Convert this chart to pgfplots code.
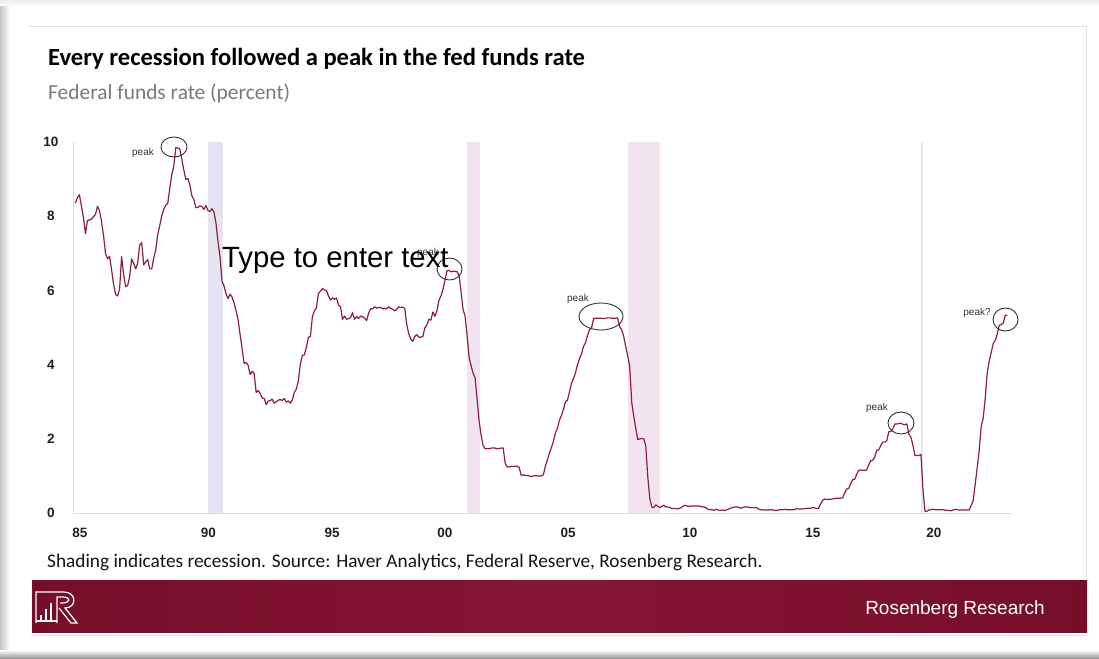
\documentclass[border=0pt]{standalone}
\usepackage{fontspec}
\setmainfont{Carlito}
\newfontfamily\arialf{Liberation Sans}
\usepackage{pgfplots}
\pgfplotsset{compat=1.18}
\usepackage{pgfplotstable}

\definecolor{ffr}{RGB}{136,34,54}
\definecolor{banner}{RGB}{118,14,42}
\definecolor{bannerlight}{RGB}{132,20,52}
\definecolor{recA}{RGB}{230,227,243}
\definecolor{recB}{RGB}{241,228,239}
\definecolor{frameline}{RGB}{226,226,226}

% Effective federal funds rate, monthly average (percent)
\pgfplotstableread[row sep=\\]{
yr mo r\\
1985 1 8.35\\ 1985 2 8.50\\ 1985 3 8.58\\ 1985 4 8.27\\ 1985 5 7.97\\ 1985 6 7.53\\ 1985 7 7.88\\ 1985 8 7.90\\ 1985 9 7.92\\ 1985 10 7.99\\ 1985 11 8.05\\ 1985 12 8.27\\
1986 1 8.14\\ 1986 2 7.86\\ 1986 3 7.48\\ 1986 4 6.99\\ 1986 5 6.85\\ 1986 6 6.92\\ 1986 7 6.56\\ 1986 8 6.17\\ 1986 9 5.89\\ 1986 10 5.85\\ 1986 11 6.04\\ 1986 12 6.91\\
1987 1 6.43\\ 1987 2 6.10\\ 1987 3 6.13\\ 1987 4 6.37\\ 1987 5 6.85\\ 1987 6 6.73\\ 1987 7 6.58\\ 1987 8 6.73\\ 1987 9 7.22\\ 1987 10 7.29\\ 1987 11 6.69\\ 1987 12 6.77\\
1988 1 6.83\\ 1988 2 6.58\\ 1988 3 6.58\\ 1988 4 6.87\\ 1988 5 7.09\\ 1988 6 7.51\\ 1988 7 7.75\\ 1988 8 8.01\\ 1988 9 8.19\\ 1988 10 8.30\\ 1988 11 8.35\\ 1988 12 8.76\\
1989 1 9.12\\ 1989 2 9.36\\ 1989 3 9.85\\ 1989 4 9.84\\ 1989 5 9.81\\ 1989 6 9.53\\ 1989 7 9.24\\ 1989 8 8.99\\ 1989 9 9.02\\ 1989 10 8.84\\ 1989 11 8.55\\ 1989 12 8.45\\
1990 1 8.23\\ 1990 2 8.24\\ 1990 3 8.28\\ 1990 4 8.26\\ 1990 5 8.18\\ 1990 6 8.29\\ 1990 7 8.15\\ 1990 8 8.13\\ 1990 9 8.20\\ 1990 10 8.11\\ 1990 11 7.81\\ 1990 12 7.31\\
1991 1 6.91\\ 1991 2 6.25\\ 1991 3 6.12\\ 1991 4 5.91\\ 1991 5 5.78\\ 1991 6 5.90\\ 1991 7 5.82\\ 1991 8 5.66\\ 1991 9 5.45\\ 1991 10 5.21\\ 1991 11 4.81\\ 1991 12 4.43\\
1992 1 4.03\\ 1992 2 4.06\\ 1992 3 3.98\\ 1992 4 3.73\\ 1992 5 3.82\\ 1992 6 3.76\\ 1992 7 3.25\\ 1992 8 3.30\\ 1992 9 3.22\\ 1992 10 3.10\\ 1992 11 3.09\\ 1992 12 2.92\\
1993 1 3.02\\ 1993 2 3.03\\ 1993 3 3.07\\ 1993 4 2.96\\ 1993 5 3.00\\ 1993 6 3.04\\ 1993 7 3.06\\ 1993 8 3.03\\ 1993 9 3.09\\ 1993 10 2.99\\ 1993 11 3.02\\ 1993 12 2.96\\
1994 1 3.05\\ 1994 2 3.25\\ 1994 3 3.34\\ 1994 4 3.56\\ 1994 5 4.01\\ 1994 6 4.25\\ 1994 7 4.26\\ 1994 8 4.47\\ 1994 9 4.73\\ 1994 10 4.76\\ 1994 11 5.29\\ 1994 12 5.45\\
1995 1 5.53\\ 1995 2 5.92\\ 1995 3 5.98\\ 1995 4 6.05\\ 1995 5 6.01\\ 1995 6 6.00\\ 1995 7 5.85\\ 1995 8 5.74\\ 1995 9 5.80\\ 1995 10 5.76\\ 1995 11 5.80\\ 1995 12 5.60\\
1996 1 5.56\\ 1996 2 5.22\\ 1996 3 5.31\\ 1996 4 5.22\\ 1996 5 5.24\\ 1996 6 5.27\\ 1996 7 5.40\\ 1996 8 5.22\\ 1996 9 5.30\\ 1996 10 5.24\\ 1996 11 5.31\\ 1996 12 5.29\\
1997 1 5.25\\ 1997 2 5.19\\ 1997 3 5.39\\ 1997 4 5.51\\ 1997 5 5.50\\ 1997 6 5.56\\ 1997 7 5.52\\ 1997 8 5.54\\ 1997 9 5.54\\ 1997 10 5.50\\ 1997 11 5.52\\ 1997 12 5.50\\
1998 1 5.56\\ 1998 2 5.51\\ 1998 3 5.49\\ 1998 4 5.45\\ 1998 5 5.49\\ 1998 6 5.56\\ 1998 7 5.54\\ 1998 8 5.55\\ 1998 9 5.51\\ 1998 10 5.07\\ 1998 11 4.83\\ 1998 12 4.68\\
1999 1 4.63\\ 1999 2 4.76\\ 1999 3 4.81\\ 1999 4 4.74\\ 1999 5 4.74\\ 1999 6 4.76\\ 1999 7 4.99\\ 1999 8 5.07\\ 1999 9 5.22\\ 1999 10 5.20\\ 1999 11 5.42\\ 1999 12 5.30\\
2000 1 5.45\\ 2000 2 5.73\\ 2000 3 5.85\\ 2000 4 6.02\\ 2000 5 6.27\\ 2000 6 6.53\\ 2000 7 6.54\\ 2000 8 6.50\\ 2000 9 6.52\\ 2000 10 6.51\\ 2000 11 6.51\\ 2000 12 6.40\\
2001 1 5.98\\ 2001 2 5.49\\ 2001 3 5.31\\ 2001 4 4.80\\ 2001 5 4.21\\ 2001 6 3.97\\ 2001 7 3.77\\ 2001 8 3.65\\ 2001 9 3.07\\ 2001 10 2.49\\ 2001 11 2.09\\ 2001 12 1.82\\
2002 1 1.73\\ 2002 2 1.74\\ 2002 3 1.73\\ 2002 4 1.75\\ 2002 5 1.75\\ 2002 6 1.75\\ 2002 7 1.73\\ 2002 8 1.74\\ 2002 9 1.75\\ 2002 10 1.75\\ 2002 11 1.34\\ 2002 12 1.24\\
2003 1 1.24\\ 2003 2 1.26\\ 2003 3 1.25\\ 2003 4 1.26\\ 2003 5 1.26\\ 2003 6 1.22\\ 2003 7 1.01\\ 2003 8 1.03\\ 2003 9 1.01\\ 2003 10 1.01\\ 2003 11 1.00\\ 2003 12 0.98\\
2004 1 1.00\\ 2004 2 1.01\\ 2004 3 1.00\\ 2004 4 1.00\\ 2004 5 1.00\\ 2004 6 1.03\\ 2004 7 1.26\\ 2004 8 1.43\\ 2004 9 1.61\\ 2004 10 1.76\\ 2004 11 1.93\\ 2004 12 2.16\\
2005 1 2.28\\ 2005 2 2.50\\ 2005 3 2.63\\ 2005 4 2.79\\ 2005 5 3.00\\ 2005 6 3.04\\ 2005 7 3.26\\ 2005 8 3.50\\ 2005 9 3.62\\ 2005 10 3.78\\ 2005 11 4.00\\ 2005 12 4.16\\
2006 1 4.29\\ 2006 2 4.49\\ 2006 3 4.59\\ 2006 4 4.79\\ 2006 5 4.94\\ 2006 6 4.99\\ 2006 7 5.24\\ 2006 8 5.25\\ 2006 9 5.25\\ 2006 10 5.25\\ 2006 11 5.25\\ 2006 12 5.24\\
2007 1 5.25\\ 2007 2 5.26\\ 2007 3 5.26\\ 2007 4 5.25\\ 2007 5 5.25\\ 2007 6 5.25\\ 2007 7 5.26\\ 2007 8 5.02\\ 2007 9 4.94\\ 2007 10 4.76\\ 2007 11 4.49\\ 2007 12 4.24\\
2008 1 3.94\\ 2008 2 2.98\\ 2008 3 2.61\\ 2008 4 2.28\\ 2008 5 1.98\\ 2008 6 2.00\\ 2008 7 2.01\\ 2008 8 2.00\\ 2008 9 1.81\\ 2008 10 0.97\\ 2008 11 0.39\\ 2008 12 0.16\\
2009 1 0.15\\ 2009 2 0.22\\ 2009 3 0.18\\ 2009 4 0.15\\ 2009 5 0.18\\ 2009 6 0.21\\ 2009 7 0.16\\ 2009 8 0.16\\ 2009 9 0.15\\ 2009 10 0.12\\ 2009 11 0.12\\ 2009 12 0.12\\
2010 1 0.11\\ 2010 2 0.13\\ 2010 3 0.16\\ 2010 4 0.20\\ 2010 5 0.20\\ 2010 6 0.18\\ 2010 7 0.18\\ 2010 8 0.19\\ 2010 9 0.19\\ 2010 10 0.19\\ 2010 11 0.19\\ 2010 12 0.18\\
2011 1 0.17\\ 2011 2 0.16\\ 2011 3 0.14\\ 2011 4 0.10\\ 2011 5 0.09\\ 2011 6 0.09\\ 2011 7 0.07\\ 2011 8 0.10\\ 2011 9 0.08\\ 2011 10 0.07\\ 2011 11 0.08\\ 2011 12 0.07\\
2012 1 0.08\\ 2012 2 0.10\\ 2012 3 0.13\\ 2012 4 0.14\\ 2012 5 0.16\\ 2012 6 0.16\\ 2012 7 0.16\\ 2012 8 0.13\\ 2012 9 0.14\\ 2012 10 0.16\\ 2012 11 0.16\\ 2012 12 0.16\\
2013 1 0.14\\ 2013 2 0.15\\ 2013 3 0.14\\ 2013 4 0.15\\ 2013 5 0.11\\ 2013 6 0.09\\ 2013 7 0.09\\ 2013 8 0.08\\ 2013 9 0.08\\ 2013 10 0.09\\ 2013 11 0.08\\ 2013 12 0.09\\
2014 1 0.07\\ 2014 2 0.07\\ 2014 3 0.08\\ 2014 4 0.09\\ 2014 5 0.09\\ 2014 6 0.10\\ 2014 7 0.09\\ 2014 8 0.09\\ 2014 9 0.09\\ 2014 10 0.09\\ 2014 11 0.09\\ 2014 12 0.12\\
2015 1 0.11\\ 2015 2 0.11\\ 2015 3 0.11\\ 2015 4 0.12\\ 2015 5 0.12\\ 2015 6 0.13\\ 2015 7 0.13\\ 2015 8 0.14\\ 2015 9 0.14\\ 2015 10 0.12\\ 2015 11 0.12\\ 2015 12 0.24\\
2016 1 0.34\\ 2016 2 0.38\\ 2016 3 0.36\\ 2016 4 0.37\\ 2016 5 0.37\\ 2016 6 0.38\\ 2016 7 0.39\\ 2016 8 0.40\\ 2016 9 0.40\\ 2016 10 0.40\\ 2016 11 0.41\\ 2016 12 0.54\\
2017 1 0.65\\ 2017 2 0.66\\ 2017 3 0.79\\ 2017 4 0.90\\ 2017 5 0.91\\ 2017 6 1.04\\ 2017 7 1.15\\ 2017 8 1.16\\ 2017 9 1.15\\ 2017 10 1.15\\ 2017 11 1.16\\ 2017 12 1.30\\
2018 1 1.41\\ 2018 2 1.42\\ 2018 3 1.51\\ 2018 4 1.69\\ 2018 5 1.70\\ 2018 6 1.82\\ 2018 7 1.91\\ 2018 8 1.91\\ 2018 9 1.95\\ 2018 10 2.19\\ 2018 11 2.20\\ 2018 12 2.27\\
2019 1 2.40\\ 2019 2 2.40\\ 2019 3 2.41\\ 2019 4 2.42\\ 2019 5 2.39\\ 2019 6 2.38\\ 2019 7 2.40\\ 2019 8 2.13\\ 2019 9 2.04\\ 2019 10 1.83\\ 2019 11 1.55\\ 2019 12 1.55\\
2020 1 1.55\\ 2020 2 1.58\\ 2020 3 0.65\\ 2020 4 0.05\\ 2020 5 0.05\\ 2020 6 0.08\\ 2020 7 0.09\\ 2020 8 0.10\\ 2020 9 0.09\\ 2020 10 0.09\\ 2020 11 0.09\\ 2020 12 0.09\\
2021 1 0.09\\ 2021 2 0.08\\ 2021 3 0.07\\ 2021 4 0.07\\ 2021 5 0.06\\ 2021 6 0.08\\ 2021 7 0.10\\ 2021 8 0.09\\ 2021 9 0.08\\ 2021 10 0.08\\ 2021 11 0.08\\ 2021 12 0.08\\
2022 1 0.08\\ 2022 2 0.08\\ 2022 3 0.20\\ 2022 4 0.33\\ 2022 5 0.77\\ 2022 6 1.21\\ 2022 7 1.68\\ 2022 8 2.33\\ 2022 9 2.56\\ 2022 10 3.08\\ 2022 11 3.78\\ 2022 12 4.10\\
2023 1 4.33\\ 2023 2 4.57\\ 2023 3 4.65\\ 2023 4 4.83\\ 2023 5 5.06\\ 2023 6 5.08\\ 2023 7 5.12\\ 2023 8 5.33\\ 2023 9 5.33\\
}\ffrdata

\begin{document}
\begin{tikzpicture}[x=1pt,y=-1pt]
% page and card
\fill[white] (0,0) rectangle (1099,658);
\shade[left color=black!22, right color=white] (0,0) rectangle (10,658);
\shade[top color=black!7, bottom color=white] (0,0) rectangle (1099,6);
\shade[top color=white, bottom color=black!40] (0,650) rectangle (1099,658);
\draw[frameline, line width=0.8pt] (28,26) -- (1086,26) -- (1086,578);

% titles
\node[anchor=base west, inner sep=0, font=\bfseries\fontsize{24.6}{28}\selectfont] at (48,66)
  {Every recession followed a peak in the fed funds rate};
\node[anchor=base west, inner sep=0, text=black!52, font=\fontsize{21.4}{24}\selectfont] at (48,100)
  {Federal funds rate (percent)};

\begin{axis}[
  at={(73pt,-513pt)}, anchor=south west,
  scale only axis, width=937.5pt, height=371pt,
  xmin=1984.9, xmax=2023.8, ymin=0, ymax=10,
  axis x line*=bottom, axis y line*=left,
  axis line style={draw=black!14, line width=0.6pt},
  major tick length=0pt,
  xtick={1985.19,1990.52,1995.65,2000.33,2005.44,2010.5,2015.6,2020.62},
  xticklabels={85,90,95,00,05,10,15,20},
  ytick={0,2,4,6,8,10}, yticklabels={0,2,4,6,8,10},
  xticklabel style={anchor=center, yshift=-20pt},
  yticklabel style={anchor=center, xshift=-22pt},
  tick label style={font=\arialf\bfseries\fontsize{13.5}{15}\selectfont, text=black!88},
  clip=false,
]
% recessions
\addplot[draw=none, fill=recA] coordinates {(1990.50,10) (1991.13,10)} \closedcycle;
\addplot[draw=none, fill=recB] coordinates {(2001.25,10) (2001.80,10)} \closedcycle;
\addplot[draw=none, fill=recB] coordinates {(2007.93,10) (2009.27,10)} \closedcycle;
\addplot[draw=none, fill=black!9] coordinates {(2020.10,10) (2020.17,10)} \closedcycle;
% fed funds rate
\addplot[ffr, line width=1.2pt, line join=round, mark=none]
  table[x expr=\thisrow{yr}+(\thisrow{mo}-1)/12, y=r] {\ffrdata};
\end{axis}

% peak annotations
\begin{scope}[black!80, line width=0.9pt]
\draw (174,147) ellipse [x radius=13, y radius=10];
\draw (449.5,269) ellipse [x radius=12.5, y radius=11];
\draw (601,316.5) ellipse [x radius=22, y radius=13.5];
\draw (901,423) ellipse [x radius=13, y radius=11];
\draw (1005.5,319.5) ellipse [x radius=12.5, y radius=11.5];
\end{scope}
\begin{scope}[every node/.style={font=\arialf\fontsize{10}{12}\selectfont, text=black!80, inner sep=0}]
\node at (143,153) {peak};
\node at (428,253) {peak};
\node at (578,299) {peak};
\node at (877,408) {peak};
\node at (977,313) {peak?};
\end{scope}
\node[anchor=base west, inner sep=0, font=\arialf\fontsize{29.3}{33}\selectfont] at (222,267) {Type to enter text};

% source line
\node[anchor=base west, inner sep=0, text=black!92, font=\fontsize{19.3}{22}\selectfont] at (47,567)
  {Shading indicates recession. Source: Haver Analytics, Federal Reserve, Rosenberg Research.};

% banner
\shade[left color=banner, right color=banner, middle color=bannerlight] (32,580) rectangle (1087,632);
\draw[frameline, line width=0.8pt] (32,635) -- (1087,635);
\node[anchor=base east, inner sep=0, text=white, font=\arialf\fontsize{19}{22}\selectfont] at (1045,614) {Rosenberg Research};
% logo
\begin{scope}[white, line width=1.2pt]
\draw (36,623) -- (36,592) -- (64,592) .. controls (77,592) and (77,608) .. (65,608) -- (77,623) -- (71,623) -- (59,608);
\draw (57,623) -- (57,597) -- (63,597) .. controls (71,597) and (71,603) .. (62,603) -- (60,603);
\fill (40,615) rectangle (42,621);
\fill (45,609) rectangle (47,621);
\fill (50,603) rectangle (52,621);
\draw (36,621) -- (57,621);
\end{scope}

\pgfresetboundingbox
\path[use as bounding box] (0,0) rectangle (1099,658);
\end{tikzpicture}
\end{document}
